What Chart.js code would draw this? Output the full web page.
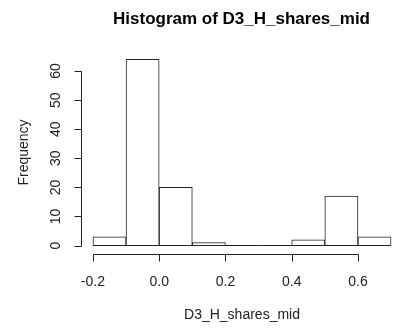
<!DOCTYPE html>
<html>
<head>
<meta charset="utf-8">
<script src="https://cdn.jsdelivr.net/npm/chart.js@4"></script>
<style>
  html, body { margin: 0; padding: 0; background: #fff; }
  #wrap { width: 406px; height: 329px; }
</style>
</head>
<body>
<div id="wrap"><canvas id="c" width="406" height="329"></canvas></div>
<script>
const titleText = "Histogram of D3_H_shares_mid";
const xTitle = "D3_H_shares_mid";
const yTitle = "Frequency";
const binStarts = [-0.2, -0.1, 0.0, 0.1, 0.2, 0.3, 0.4, 0.5, 0.6];
const binWidth = 0.1;
const counts = [3, 64, 20, 1, 0, 0, 2, 17, 3];
const xTicks = [-0.2, 0.0, 0.2, 0.4, 0.6];
const xTickLabels = ["-0.2", "0.0", "0.2", "0.4", "0.6"];
const yTicks = [0, 10, 20, 30, 40, 50, 60];

const FONT = "'Liberation Sans', Arial, sans-serif";
const INK = "#222";

const rAxes = {
  id: 'rAxes',
  afterDraw(chart) {
    const ctx = chart.ctx, ca = chart.chartArea;
    const xs = chart.scales.x, ys = chart.scales.y;
    ctx.save();
    ctx.strokeStyle = INK; ctx.fillStyle = INK; ctx.lineWidth = 1;
    // flat outline for empty bins
    const y0 = Math.round(ys.getPixelForValue(0)) - 0.5;
    ctx.beginPath();
    binStarts.forEach((s, i) => {
      if (counts[i] === 0) {
        ctx.moveTo(xs.getPixelForValue(s), y0);
        ctx.lineTo(xs.getPixelForValue(s + binWidth), y0);
      }
    });
    ctx.stroke();
    // x axis
    const ax = Math.round(ca.bottom) + 1.5;
    ctx.beginPath();
    ctx.moveTo(Math.round(xs.getPixelForValue(xTicks[0])) + 0.5, ax);
    ctx.lineTo(Math.round(xs.getPixelForValue(xTicks[xTicks.length - 1])) + 0.5, ax);
    xTicks.forEach(v => {
      const px = Math.round(xs.getPixelForValue(v)) + 0.5;
      ctx.moveTo(px, ax); ctx.lineTo(px, ax + 7);
    });
    ctx.stroke();
    ctx.font = "14px " + FONT;
    ctx.textAlign = 'center'; ctx.textBaseline = 'middle';
    xTicks.forEach((v, i) => ctx.fillText(xTickLabels[i], xs.getPixelForValue(v), 282));
    ctx.fillText(xTitle, (ca.left + ca.right) / 2, 315);
    // y axis
    const ay = Math.round(ca.left) + 0.5;
    ctx.beginPath();
    ctx.moveTo(ay, Math.round(ys.getPixelForValue(yTicks[0])) + 0.5);
    ctx.lineTo(ay, Math.round(ys.getPixelForValue(yTicks[yTicks.length - 1])) + 0.5);
    yTicks.forEach(v => {
      const py = Math.round(ys.getPixelForValue(v)) + 0.5;
      ctx.moveTo(ay, py); ctx.lineTo(ay - 7, py);
    });
    ctx.stroke();
    yTicks.forEach(v => {
      ctx.save();
      ctx.translate(56, ys.getPixelForValue(v));
      ctx.rotate(-Math.PI / 2);
      ctx.fillText(String(v), 0, 0);
      ctx.restore();
    });
    ctx.save();
    ctx.translate(24, (ca.top + ca.bottom) / 2);
    ctx.rotate(-Math.PI / 2);
    ctx.fillText(yTitle, 0, 0);
    ctx.restore();
    // title
    ctx.font = "bold 17px " + FONT;
    ctx.fillStyle = "#000";
    ctx.fillText(titleText, 241.5, 19);
    ctx.restore();
  }
};

new Chart(document.getElementById('c'), {
  type: 'bar',
  data: {
    datasets: [{
      data: binStarts.map((s, i) => ({ x: s + binWidth / 2, y: counts[i] })),
      backgroundColor: '#ffffff',
      borderColor: INK,
      borderWidth: 1,
      borderSkipped: false,
      barPercentage: 1,
      categoryPercentage: 1
    }]
  },
  options: {
    responsive: false,
    animation: false,
    devicePixelRatio: 1,
    layout: { padding: { left: 81, right: 3, top: 52, bottom: 76 } },
    plugins: { legend: { display: false }, tooltip: { enabled: false }, title: { display: false } },
    scales: {
      x: { type: 'linear', min: -0.236, max: 0.736, display: false, offset: false },
      y: { type: 'linear', min: -2.56, max: 66.56, display: false }
    }
  },
  plugins: [rAxes]
});
</script>
</body>
</html>
